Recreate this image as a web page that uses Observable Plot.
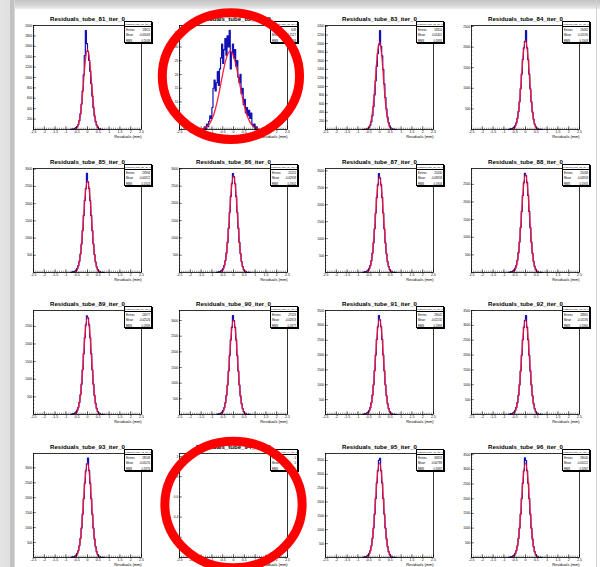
<!DOCTYPE html>
<html><head><meta charset="utf-8">
<script src="https://cdn.jsdelivr.net/npm/d3@7"></script>
<script src="https://cdn.jsdelivr.net/npm/@observablehq/plot@0.6"></script>
<style>
html,body{margin:0;padding:0;background:#fff;}
#page{position:relative;width:600px;height:567px;overflow:hidden;background:#fff;font-family:"Liberation Sans",Arial,sans-serif;}
.topbar{position:absolute;left:0;top:0;width:600px;height:9px;background:linear-gradient(#c2c2c2,#d4d4d4 55%,#ececec);}
.leftbar{position:absolute;left:0;top:0;width:15px;height:567px;background:linear-gradient(to right,#e4e4e4 0,#e0e0e0 10px,#c2c2c2 10px,#c2c2c2 14px,#f2f2f2 15px);}
.rightline{position:absolute;left:596px;top:0;width:1px;height:567px;background:#d2d2d2;}
.cell{position:absolute;width:146px;height:143px;}
.cell svg{position:absolute;left:0;top:0;overflow:visible;}
.overlay{position:absolute;width:146px;height:143px;z-index:5;}
.overlay svg{overflow:visible;}
.stats{position:absolute;left:116px;top:18px;width:28px;height:22px;background:#fff;border:0.7px solid #000;box-shadow:1px 1px 0 #000;box-sizing:border-box;color:#000;font-size:2.8px;line-height:1;}
.stats .hd{height:4.4px;border-bottom:0.5px solid #000;text-align:center;font-size:2.3px;line-height:4.4px;white-space:nowrap;overflow:hidden;}
.stats .row{height:5.6px;display:flex;justify-content:space-between;align-items:center;padding:0 1px;}
</style>
</head><body>
<div id="page">
  <div class="topbar"></div>
  <div class="leftbar"></div>
  <div class="rightline"></div>
</div>
<script>
// ---------- data ----------
const tubes = [81,82,83,84,85,86,87,88,89,90,91,92,93,94,95,96];
const xTickValues = [-2.5,-2,-1.5,-1,-0.5,0,0.5,1,1.5,2,2.5];
const xTickLabels = ["-2.5","-2","-1.5","-1","-0.5","0","0.5","1","1.5","2","2.5"];
const xTitle = "Residuals (mm)";

const binCenters = [-0.775,-0.725,-0.675,-0.625,-0.575,-0.525,-0.475,-0.425,-0.375,-0.325,-0.275,-0.225,-0.175,-0.125,-0.075,-0.025,0.025,0.075,0.125,0.175,0.225,0.275,0.325,0.375,0.425,0.475,0.525,0.575,0.625,0.675,0.725,0.775];
const binCenters82 = [-1.375,-1.325,-1.275,-1.225,-1.175,-1.125,-1.075,-1.025,-0.975,-0.925,-0.875,-0.825,-0.775,-0.725,-0.675,-0.625,-0.575,-0.525,-0.475,-0.425,-0.375,-0.325,-0.275,-0.225,-0.175,-0.125,-0.075,-0.025,0.025,0.075,0.125,0.175,0.225,0.275,0.325,0.375,0.425,0.475,0.525,0.575,0.625,0.675,0.725,0.775,0.825,0.875,0.925,0.975,1.025,1.075,1.125];

const c81 = [0,6,9,14,22,35,55,95,170,300,490,740,1050,1420,1900,1650,1500,1330,1120,880,640,420,260,150,80,40,18,8,3,1,0,0];
const c82 = [0,1,0,2,1,3,5,4,8,15,18,14,17,21,16,22,26,31,24,29,33,27,34,30,36,22,28,31,26,29,23,25,19,17,20,13,15,9,11,6,8,5,7,4,6,2,1,2,0,1,0];
const c83 = [0,3,5,8,14,26,50,96,183,323,530,804,1129,1467,1766,1968,2300,1937,1713,1401,1062,744,483,290,162,83,40,18,7,3,1,0];
const c84 = [0,9,13,22,35,56,95,160,268,436,672,989,1346,1698,1981,2138,2400,1981,1698,1346,989,672,423,246,133,67,31,13,5,2,1,0];
const c85 = [0,11,16,27,43,69,117,197,330,537,827,1218,1657,2091,2439,2880,2633,2439,2091,1657,1218,827,521,303,164,82,38,16,6,2,1,0];
const c86 = [0,11,17,28,45,73,123,207,347,566,871,1282,1744,2201,2568,2860,2772,2568,2201,1744,1282,871,549,319,172,86,40,17,7,3,1,0];
const c87 = [0,11,17,28,45,73,124,209,350,570,877,1292,1757,2217,2586,2920,2792,2586,2217,1757,1292,877,553,321,174,87,40,17,7,3,1,0];
const c88 = [0,11,17,28,44,72,122,206,345,562,865,1273,1732,2185,2549,2810,2752,2549,2185,1732,1273,865,545,317,171,86,39,17,7,3,1,0];
const c89 = [0,11,17,28,44,72,122,205,343,560,861,1269,1726,2177,2540,2800,2742,2540,2177,1726,1269,861,543,316,171,85,39,17,7,2,1,0];
const c90 = [0,12,18,30,48,79,133,224,376,612,942,1388,1888,2382,2779,3160,3000,2779,2382,1888,1388,942,594,345,187,93,43,18,7,3,1,0];
const c91 = [0,13,19,32,52,84,142,238,399,650,1001,1475,2006,2531,2953,3330,3188,2953,2531,2006,1475,1001,631,367,198,99,46,20,8,3,1,0];
const c92 = [0,13,19,32,51,83,141,237,397,646,995,1466,1994,2515,2934,3168,3330,2934,2515,1994,1466,995,627,365,197,99,45,20,8,3,1,0];
const c93 = [0,13,19,32,51,82,139,234,392,639,984,1450,1972,2488,2902,3133,3330,2902,2488,1972,1450,984,620,361,195,97,45,19,8,3,1,0];
const c94 = [];
const c95 = [0,14,21,34,55,89,150,253,424,691,1064,1566,2131,2688,3136,3500,3575,3136,2688,2131,1566,1064,670,390,211,105,49,21,8,3,1,0];
const c96 = [0,13,19,32,52,84,142,238,399,650,1001,1475,2006,2531,2953,3390,3300,2953,2531,2006,1475,1001,631,367,198,99,46,20,8,3,1,0];

const fitX = [-0.6,-0.5,-0.4,-0.3,-0.2,-0.1,0,0.1,0.2,0.3,0.4,0.5,0.6];
const fitX82 = [-1.45,-1.35,-1.25,-1.15,-1.05,-0.95,-0.85,-0.75,-0.65,-0.55,-0.45,-0.35,-0.25,-0.15,-0.05,0.05,0.15,0.25,0.35,0.45,0.55,0.65,0.75,0.85,0.95,1.05,1.15];
const f81 = [6,32,131,383,830,1320,1540,1320,830,383,131,32,6];
const f82 = [0.24,0.48,0.92,1.68,2.87,4.64,7.1,10.3,14.0,18.1,22.1,25.4,27.7,28.5,27.7,25.4,22.1,18.1,14.0,10.3,7.1,4.64,2.87,1.68,0.92,0.48,0.24];
const f83 = [8,43,173,505,1094,1740,2030,1740,1094,505,173,43,8];
const f84 = [8,45,184,538,1164,1851,2160,1851,1164,538,184,45,8];
const f85 = [10,56,226,662,1434,2280,2660,2280,1434,662,226,56,10];
const f86 = [11,59,238,697,1509,2400,2800,2400,1509,697,238,59,11];
const f87 = [11,59,240,702,1520,2417,2820,2417,1520,702,240,59,11];
const f88 = [11,58,236,692,1498,2382,2780,2382,1498,692,236,58,11];
const f89 = [11,58,235,690,1493,2374,2770,2374,1493,690,235,58,11];
const f90 = [12,64,258,754,1633,2597,3030,2597,1633,754,258,64,12];
const f91 = [13,68,274,802,1736,2760,3220,2760,1736,802,274,68,13];
const f92 = [13,67,272,797,1725,2742,3200,2742,1725,797,272,67,13];
const f93 = [12,66,269,788,1706,2712,3165,2712,1706,788,269,66,12];
const f94 = [];
const f95 = [13,71,291,852,1843,2931,3420,2931,1843,852,291,71,13];
const f96 = [13,68,274,802,1736,2760,3220,2760,1736,802,274,68,13];

const yMax = [2000,37.8,2420,2525,3020,3010,3070,2950,2950,3320,3500,3500,3480,1.03,3750,3540];
const yTicks = [
  [200,400,600,800,1000,1200,1400,1600,1800,2000],
  [5,10,15,20,25,30,35],
  [200,400,600,800,1000,1200,1400,1600,1800,2000,2200,2400],
  [500,1000,1500,2000,2500],
  [500,1000,1500,2000,2500,3000],
  [500,1000,1500,2000,2500,3000],
  [500,1000,1500,2000,2500,3000],
  [500,1000,1500,2000,2500],
  [500,1000,1500,2000,2500],
  [500,1000,1500,2000,2500,3000],
  [500,1000,1500,2000,2500,3000,3500],
  [500,1000,1500,2000,2500,3000,3500],
  [500,1000,1500,2000,2500,3000],
  [0.2,0.4,0.6,0.8,1],
  [500,1000,1500,2000,2500,3000,3500],
  [500,1000,1500,2000,2500,3000,3500]
];
const yMinorStep = [40,1,40,100,100,100,100,100,100,100,100,100,100,0.04,100,100];

const entries = ["13921","649","18310","19482","23994","25251","25430","25068","24977","27329","29042","28861","28548","0","30853","29040"];
const means = ["-0.05063","-0.1527","0.01402","0.01195","-0.00312","-0.02958","-0.03958","-0.03958","-0.02526","-0.02819","-0.02132","-0.01195","-0.01070","0","-0.00789","-0.01012"];
const rmsVals = ["0.2049","0.4268","0.1891","0.1903","0.1924","0.1902","0.1904","0.1931","0.1889","0.1877","0.1869","0.1860","0.1876","0","0.1867","0.1867"];

// annotation rings (panel index, centre in data units)
const rings = [{panel: 1, x: -0.12, y: 19.4}, {panel: 13, x: 0.0, y: 0.525}];

// ---------- assembly ----------
const counts = [c81,c82,c83,c84,c85,c86,c87,c88,c89,c90,c91,c92,c93,c94,c95,c96];
const fits = [f81,f82,f83,f84,f85,f86,f87,f88,f89,f90,f91,f92,f93,f94,f95,f96];
const binsOf = i => i === 1 ? binCenters82 : binCenters;
const fitXOf = i => i === 1 ? fitX82 : fitX;

const FW = 108, FH = 104, ML = 25, MR = 13, MT = 22, MB = 17, CW = 146, CH = 143;
const BLUE = "#1212b4", RED = "#ff1030";
const xMinor = d3.range(-2.5, 2.5001, 0.1);

const ellipse = {
  draw(ctx, size) {
    const r = Math.sqrt(size / Math.PI), rx = r * 1.04, ry = r * 0.96, k = 0.5523;
    ctx.moveTo(rx, 0);
    ctx.bezierCurveTo(rx, k*ry, k*rx, ry, 0, ry);
    ctx.bezierCurveTo(-k*rx, ry, -rx, k*ry, -rx, 0);
    ctx.bezierCurveTo(-rx, -k*ry, -k*rx, -ry, 0, -ry);
    ctx.bezierCurveTo(k*rx, -ry, rx, -k*ry, rx, 0);
    ctx.closePath();
  }
};

function base(i, marks) {
  return Plot.plot({
    width: CW, height: CH,
    marginLeft: ML, marginRight: MR, marginTop: MT, marginBottom: MB,
    x: {domain: [-2.5, 2.5], axis: null},
    y: {domain: [0, yMax[i]], axis: null},
    style: {background: "transparent", overflow: "visible", fontFamily: "'Liberation Sans', Arial, sans-serif", color: "#000"},
    marks
  });
}

function panel(i) {
  const yMinor = d3.range(0, yMax[i] + 1e-9, yMinorStep[i]);
  const marks = [];
  if (counts[i].length) {
    marks.push(Plot.line(counts[i], {x: binsOf(i), y: d => d, curve: "step", stroke: BLUE, strokeWidth: 1.2}));
    marks.push(Plot.line(fits[i], {x: fitXOf(i), y: d => d, curve: "monotone-x", stroke: RED, strokeWidth: 1.3, strokeOpacity: 0.92}));
  }
  marks.push(
    Plot.tickX(xMinor, {x: d => d, insetTop: FH - 1.3, stroke: "#000", strokeWidth: 0.45}),
    Plot.tickX(xTickValues, {x: d => d, insetTop: FH - 2.8, stroke: "#000", strokeWidth: 0.55}),
    Plot.tickY(yMinor, {y: d => d, insetRight: FW - 1.3, stroke: "#000", strokeWidth: 0.45}),
    Plot.tickY(yTicks[i], {y: d => d, insetRight: FW - 2.8, stroke: "#000", strokeWidth: 0.55}),
    Plot.frame({stroke: "#000", strokeWidth: 0.8}),
    Plot.text(xTickValues, {x: d => d, text: (d, j) => xTickLabels[j], frameAnchor: "bottom", dy: 3, fontSize: 3.5}),
    Plot.text(yTicks[i], {y: d => d, text: d => String(d), frameAnchor: "left", dx: -1.2, textAnchor: "end", fontSize: 3.2}),
    Plot.text([xTitle], {text: d => d, frameAnchor: "bottom-right", dy: 8, textAnchor: "end", fontSize: 3.9}),
    Plot.text(["Residuals_tube_" + tubes[i] + "_iter_0"], {text: d => d, frameAnchor: "top", dy: -9, fontSize: 6.1, fontWeight: "bold"})
  );
  return base(i, marks);
}

const page = document.getElementById("page");
for (let i = 0; i < 16; i++) {
  const col = i % 4, row = Math.floor(i / 4);
  const left = 8 + col * 146, top = 3 + Math.round(row * 142.7);
  const cell = document.createElement("div");
  cell.className = "cell";
  cell.style.left = left + "px"; cell.style.top = top + "px";
  cell.appendChild(panel(i));
  const st = document.createElement("div");
  st.className = "stats";
  st.innerHTML = `<div class="hd">residuals_tube_${tubes[i]}_iter_0</div>
    <div class="row"><span>Entries</span><span>${entries[i]}</span></div>
    <div class="row"><span>Mean</span><span>${means[i]}</span></div>
    <div class="row"><span>RMS</span><span>${rmsVals[i]}</span></div>`;
  cell.appendChild(st);
  page.appendChild(cell);
}
for (const ring of rings) {
  const i = ring.panel, col = i % 4, row = Math.floor(i / 4);
  const ov = document.createElement("div");
  ov.className = "overlay";
  ov.style.left = (8 + col * 146) + "px"; ov.style.top = (3 + Math.round(row * 142.7)) + "px";
  ov.appendChild(base(i, [Plot.dot([ring], {x: "x", y: "y", r: 66, symbol: ellipse, fill: "none", stroke: "#ff0000", strokeWidth: 9})]));
  page.appendChild(ov);
}
</script>
</body></html>
